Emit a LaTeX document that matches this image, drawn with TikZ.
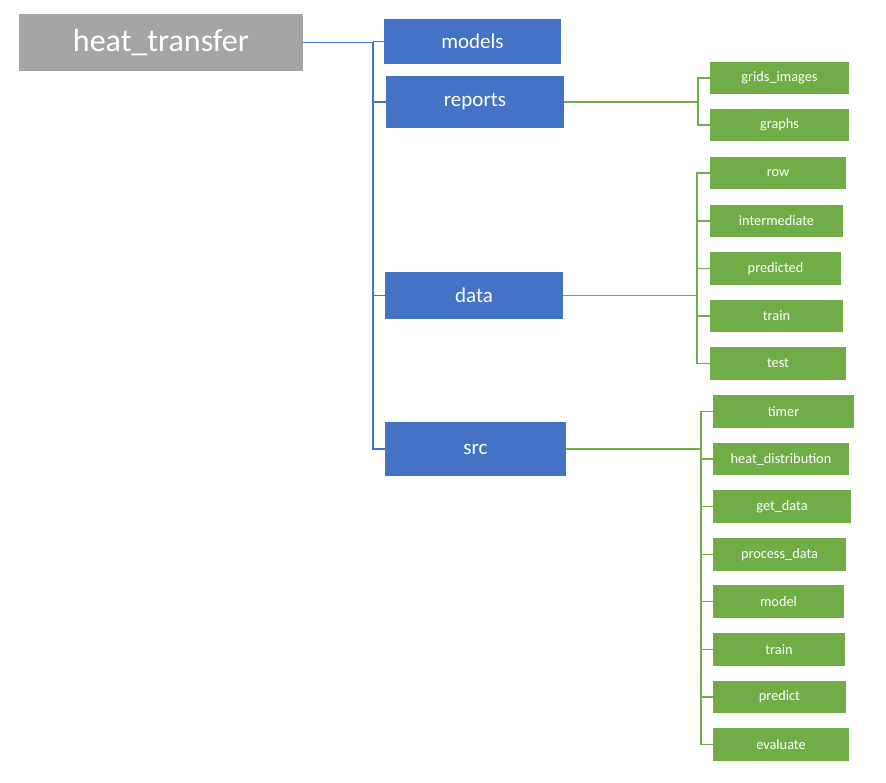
\documentclass[tikz,border=0pt]{standalone}
\usepackage{fontspec}
\setmainfont{Carlito}
\definecolor{rootgray}{HTML}{A5A5A5}
\definecolor{boxblue}{HTML}{4472C4}
\definecolor{boxgreen}{HTML}{70AD47}
\tikzset{
  basebox/.style={rectangle, inner sep=0pt, text=white, anchor=center},
  rootbox/.style={basebox, fill=rootgray, font=\fontsize{32}{36}\selectfont},
  bluebox/.style={basebox, fill=boxblue, font=\fontsize{21}{24}\selectfont},
  greenbox/.style={basebox, fill=boxgreen, font=\fontsize{14.3}{16}\selectfont},
  bline/.style={draw=boxblue, line width=1.1pt},
  gline/.style={draw=boxgreen, line width=1.4pt},
}
\begin{document}
\begin{tikzpicture}[x=1pt,y=-1pt]
\useasboundingbox[fill=white] (0,0) rectangle (886,782);
% root and level 1
\node[rootbox, minimum width=284pt, minimum height=57pt] (root) at (161,42.5) {heat\_transfer};
\node[bluebox, minimum width=177pt, minimum height=45pt] (models) at (472.5,41.5) {models};
\node[bluebox, minimum width=178pt, minimum height=52pt] (reports) at (475,102) {reports};
\node[bluebox, minimum width=178pt, minimum height=47pt] (data) at (474,295.5) {data};
\node[bluebox, minimum width=181pt, minimum height=54pt] (src) at (475.5,449) {src};
% reports children
\node[greenbox, minimum width=139pt, minimum height=32pt] (grids) at (779.5,78) {grids\_images};
\node[greenbox, minimum width=139pt, minimum height=32pt] (graphs) at (779.5,125) {graphs};
% data children
\node[greenbox, minimum width=136pt, minimum height=32pt] (row) at (778,173) {row};
\node[greenbox, minimum width=133pt, minimum height=32pt] (inter) at (776.5,221) {intermediate};
\node[greenbox, minimum width=131pt, minimum height=33pt] (predicted) at (775.5,268.5) {predicted};
\node[greenbox, minimum width=133pt, minimum height=32pt] (dtrain) at (776.5,316) {train};
\node[greenbox, minimum width=136pt, minimum height=33pt] (test) at (778,363.5) {test};
% src children
\node[greenbox, minimum width=141pt, minimum height=33pt] (timer) at (783.5,411.5) {timer};
\node[greenbox, minimum width=136pt, minimum height=32pt] (heatd) at (781,459) {heat\_distribution};
\node[greenbox, minimum width=138pt, minimum height=33pt] (getdata) at (782,506.5) {get\_data};
\node[greenbox, minimum width=133pt, minimum height=33pt] (procdata) at (779.5,554.5) {process\_data};
\node[greenbox, minimum width=131pt, minimum height=33pt] (model) at (778.5,601.5) {model};
\node[greenbox, minimum width=132pt, minimum height=33pt] (strain) at (779,649.5) {train};
\node[greenbox, minimum width=133pt, minimum height=32pt] (predict) at (779.5,697) {predict};
\node[greenbox, minimum width=136pt, minimum height=33pt] (evaluate) at (781,744.5) {evaluate};
% trunk x positions
\coordinate (bx) at (373,0);
\coordinate (rx) at (698,0);
\coordinate (dx) at (697,0);
\coordinate (sx) at (701,0);
% blue connectors
\draw[bline] (root.east) -- (root.east -| bx) |- (src.west);
\foreach \n in {models,reports,data}{
  \draw[bline] (\n.west -| bx) -- (\n.west);
}
% reports connectors
\draw[gline] (reports.east) -- (reports.east -| rx);
\draw[gline] (grids.west) -| (rx |- graphs.west) -- (graphs.west);
% data connectors
\draw[gline] (data.east) -- (data.east -| dx);
\draw[gline] (row.west) -| (dx |- test.west) -- (test.west);
\foreach \n in {inter,predicted,dtrain}{
  \draw[gline] (\n.west -| dx) -- (\n.west);
}
% src connectors
\draw[gline] (src.east) -- (src.east -| sx);
\draw[gline] (timer.west) -| (sx |- evaluate.west) -- (evaluate.west);
\foreach \n in {heatd,getdata,procdata,model,strain,predict}{
  \draw[gline] (\n.west -| sx) -- (\n.west);
}
\end{tikzpicture}
\end{document}
